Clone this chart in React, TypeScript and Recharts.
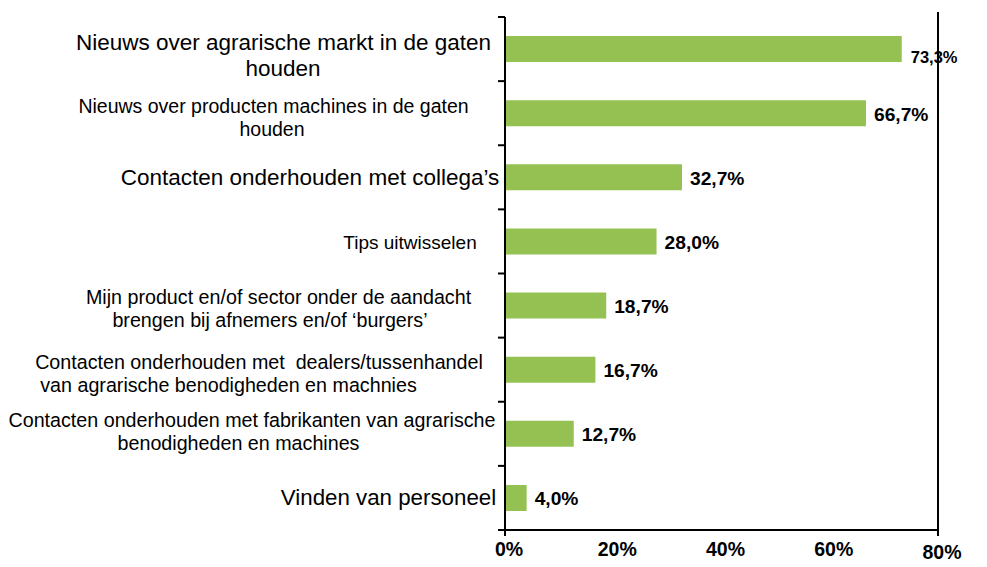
import { BarChart, Bar, XAxis, YAxis, LabelList, ReferenceLine } from 'recharts';

const categories = [
  'Nieuws over agrarische markt in de gaten houden',
  'Nieuws over producten machines in de gaten houden',
  'Contacten onderhouden met collega’s',
  'Tips uitwisselen',
  'Mijn product en/of sector onder de aandacht brengen bij afnemers en/of ‘burgers’',
  'Contacten onderhouden met  dealers/tussenhandel van agrarische benodigheden en machnies',
  'Contacten onderhouden met fabrikanten van agrarische benodigheden en machines',
  'Vinden van personeel',
];

// how each category label is broken over lines
const categoryLines = [
  ['Nieuws over agrarische markt in de gaten', 'houden'],
  ['Nieuws over producten machines in de gaten', 'houden'],
  ['Contacten onderhouden met collega’s'],
  ['Tips uitwisselen'],
  ['Mijn product en/of sector onder de aandacht', 'brengen bij afnemers en/of ‘burgers’'],
  ['Contacten onderhouden met  dealers/tussenhandel', 'van agrarische benodigheden en machnies'],
  ['Contacten onderhouden met fabrikanten van agrarische', 'benodigheden en machines'],
  ['Vinden van personeel'],
];

const values = [73.3, 66.7, 32.7, 28.0, 18.7, 16.7, 12.7, 4.0];

const xTicks = [0, 20, 40, 60, 80];

const data = categories.map((name, i) => ({ name, value: values[i] }));

// label styling per category: font size, line centres, vertical shift, line height
const TICK_STYLE = [
  { size: 22.5, cx: [283.5, 283], dy: 6, lh: 26 },
  { size: 19.5, cx: [273.5, 272], dy: 4, lh: 23 },
  { size: 22.5, cx: [310], dy: 0, lh: 24 },
  { size: 19, cx: [410], dy: 1, lh: 22 },
  { size: 19.7, cx: [278.5, 270], dy: 3, lh: 23 },
  { size: 19.7, cx: [259, 228.5], dy: 4, lh: 23 },
  { size: 19.7, cx: [252, 238.5], dy: -2, lh: 23 },
  { size: 22.3, cx: [388.5], dy: 0, lh: 24 },
];

const W = 987;
const H = 567;
const M = { top: 17, right: 49, bottom: 7, left: 0 };
const Y_W = 505;
const X_H = 30;
const PLOT_LEFT = M.left + Y_W;
const PLOT_BOTTOM = H - M.bottom - X_H;
const BAND = (PLOT_BOTTOM - M.top) / categories.length;
const FONT = '"Liberation Sans", Arial, sans-serif';

function CategoryTick(props: any) {
  const { y, payload } = props;
  const i = categories.indexOf(payload.value);
  const st = TICK_STYLE[i];
  const lines = categoryLines[i];
  const top = y + st.dy - ((lines.length - 1) * st.lh) / 2;
  const isLast = i === categories.length - 1;
  return (
    <g>
      <line x1={PLOT_LEFT - 7} x2={PLOT_LEFT} y1={y - BAND / 2} y2={y - BAND / 2} stroke="#000" strokeWidth={2} />
      {isLast && (
        <line x1={PLOT_LEFT - 7} x2={PLOT_LEFT} y1={y + BAND / 2} y2={y + BAND / 2} stroke="#000" strokeWidth={2} />
      )}
      {lines.map((l, k) => (
        <text
          key={k}
          x={st.cx[k]}
          y={top + k * st.lh}
          textAnchor="middle"
          dominantBaseline="central"
          fontFamily={FONT}
          fontSize={st.size}
          fill="#000"
          style={{ whiteSpace: 'pre' }}
        >
          {l}
        </text>
      ))}
    </g>
  );
}

function PercentTick(props: any) {
  const { x, payload } = props;
  const last = payload.value === xTicks[xTicks.length - 1];
  const first = payload.value === xTicks[0];
  return (
    <g>
      {(first || last) && (
        <line x1={x} x2={x} y1={PLOT_BOTTOM} y2={PLOT_BOTTOM + 6} stroke="#000" strokeWidth={2} />
      )}
      <text
        x={x + 4}
        y={PLOT_BOTTOM + (last ? 22 : 19)}
        textAnchor="middle"
        dominantBaseline="central"
        fontFamily={FONT}
        fontWeight="bold"
        fontSize={19.5}
        fill="#000"
      >
        {payload.value}%
      </text>
    </g>
  );
}

function ValueLabel(props: any) {
  const { x, y, width, height, value, index } = props;
  const first = index === 0;
  return (
    <text
      x={x + width + (first ? 9 : 8)}
      y={y + height / 2 + (first ? 8 : 1)}
      dominantBaseline="central"
      fontFamily={FONT}
      fontWeight="bold"
      fontSize={first ? 16.5 : 19.2}
      fill="#000"
    >
      {Number(value).toFixed(1).replace('.', ',') + '%'}
    </text>
  );
}

function RightEdge(props: any) {
  const { x1, y1, x2, y2 } = props;
  return <line x1={x1} x2={x2} y1={Math.min(y1, y2) - 5} y2={Math.max(y1, y2)} stroke="#000" strokeWidth={2} />;
}

export default function App() {
  return (
    <div style={{ position: 'absolute', left: 0, top: 0, width: W, height: H, background: '#fff' }}>
      <BarChart width={W} height={H} data={data} layout="vertical" margin={M} barCategoryGap={0}>
        <XAxis
          type="number"
          domain={[0, 80]}
          ticks={xTicks}
          height={X_H}
          axisLine={{ stroke: '#000', strokeWidth: 2 }}
          tickLine={false}
          tick={<PercentTick />}
          interval={0}
        />
        <YAxis
          type="category"
          dataKey="name"
          width={Y_W}
          axisLine={{ stroke: '#000', strokeWidth: 2 }}
          tickLine={false}
          tick={<CategoryTick />}
          interval={0}
        />
        <ReferenceLine x={80} stroke="#000" strokeWidth={2} shape={<RightEdge />} />
        <Bar dataKey="value" fill="#94c152" barSize={26} isAnimationActive={false}>
          <LabelList dataKey="value" content={<ValueLabel />} />
        </Bar>
      </BarChart>
    </div>
  );
}
